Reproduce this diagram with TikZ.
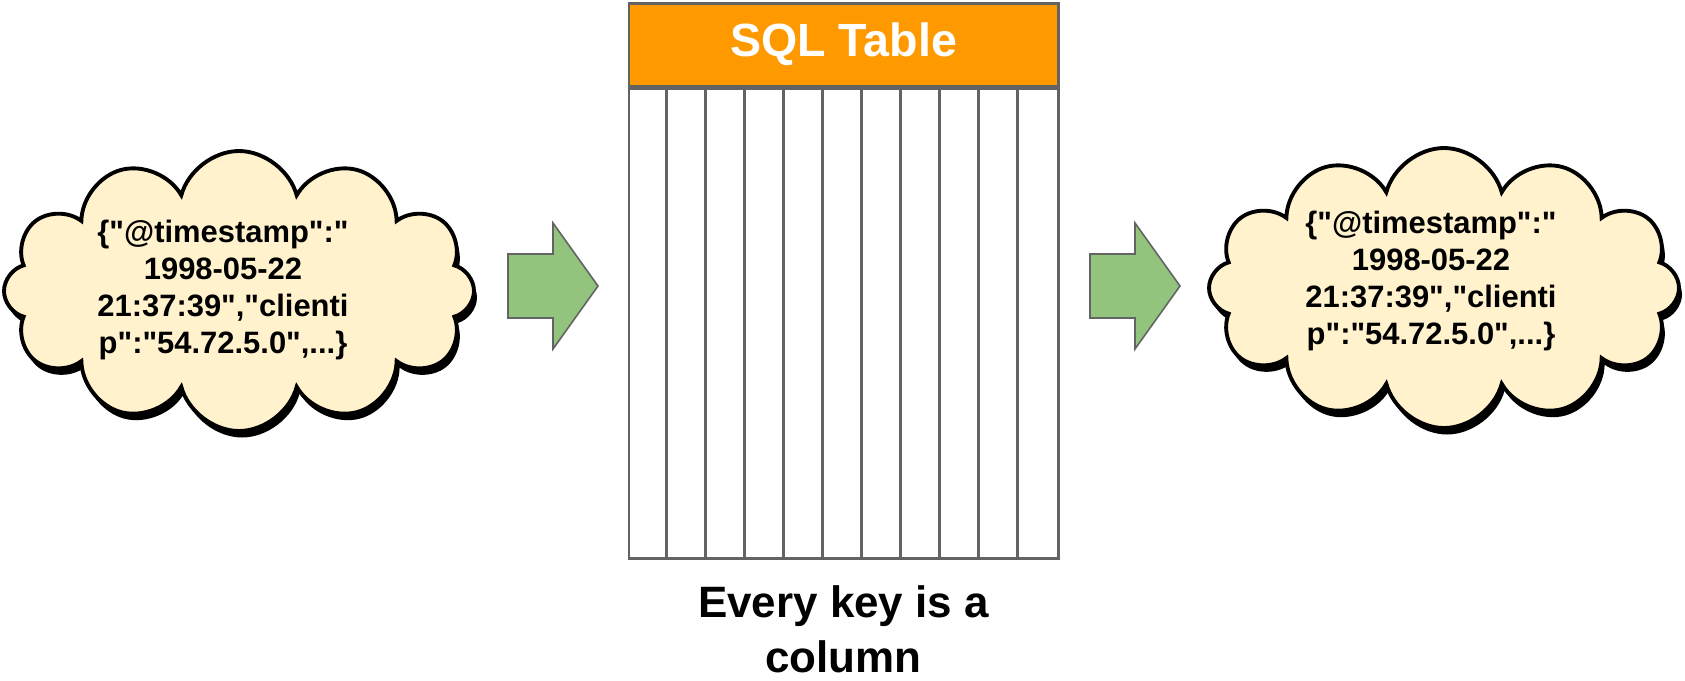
\documentclass[tikz,border=0pt]{standalone}
\usepackage{fontspec}
\setmainfont{Liberation Sans}[Ligatures=TeXOff]
\usetikzlibrary{shapes,shadows,positioning}
\definecolor{cloudfill}{HTML}{FFF2CC}
\definecolor{headfill}{HTML}{FF9900}
\definecolor{arrowfill}{HTML}{93C47D}
\definecolor{gridline}{HTML}{636363}
\tikzset{
  jsoncloud/.style={cloud, cloud puffs=12, cloud ignores aspect, draw=black, line width=2.2pt,
    fill=cloudfill, minimum width=94mm, minimum height=56mm,
    drop shadow={shadow xshift=0.6mm, shadow yshift=-1.3mm, fill=black, opacity=1}},
  jsontext/.style={align=center, inner sep=0pt, font=\fontsize{17.6}{21}\selectfont\bfseries},
  headbox/.style={draw=gridline, line width=1.7pt, fill=headfill, text=white,
    minimum width=85.8mm, minimum height=16.6mm, font=\fontsize{26.5}{30}\selectfont\bfseries},
  bodybox/.style={draw=gridline, line width=1.7pt, fill=white, minimum width=85.8mm, minimum height=93.8mm},
  caption/.style={align=center, font=\fontsize{25}{31.3}\selectfont\bfseries},
  blockarrow/.style={draw=gridline, line width=0.9pt, fill=arrowfill, line join=miter}
}
\def\arrowpath{(0,-32) -- (45,-32) -- (45,-63) -- (90,0) -- (45,63) -- (45,32) -- (0,32) -- cycle}

\begin{document}
\begin{tikzpicture}[x=0.2mm,y=-0.2mm]
  \useasboundingbox (0,0) rectangle (1685,680);

  % clouds
  \node[jsoncloud] (cloudL) at (239,291) {};
  \node[jsontext] (jsonL) at (223,290) {\{"@timestamp":"\\1998-05-22\\21:37:39","clienti\\p":"54.72.5.0",...\}};
  \node[jsoncloud] (cloudR) at (1444,288) {};
  \node[jsontext] (jsonR) at (1431,281) {\{"@timestamp":"\\1998-05-22\\21:37:39","clienti\\p":"54.72.5.0",...\}};

  % table
  \node[headbox] (sqlhead) at (843.5,44.5) {SQL Table};
  \node[bodybox, below=0pt of sqlhead] (sqlbody) {};
  \foreach \k in {1,...,10}
    \draw[gridline, line width=1.7pt] ([xshift=\k*7.8mm]sqlbody.north west) -- ([xshift=\k*7.8mm]sqlbody.south west);
  \node[caption, below=4mm of sqlbody] (note) {Every key is a\\column};

  % arrows
  \begin{scope}[shift={(508,286)}]
    \draw[blockarrow] \arrowpath;
  \end{scope}
  \begin{scope}[shift={(1090,286)}]
    \draw[blockarrow] \arrowpath;
  \end{scope}
\end{tikzpicture}
\end{document}
